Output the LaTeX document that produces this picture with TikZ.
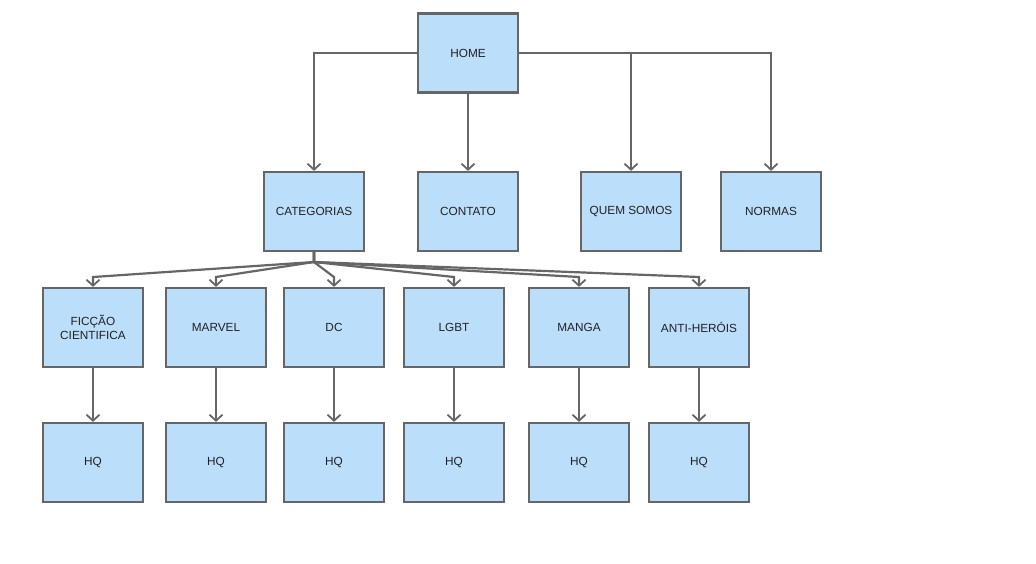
\documentclass[tikz,border=0pt]{standalone}
\usepackage{fontspec}
\setmainfont{Liberation Sans}
\usetikzlibrary{arrows.meta}
\definecolor{boxfill}{HTML}{BBDEFB}
\definecolor{edge}{HTML}{666666}
\definecolor{ink}{HTML}{222222}
\begin{document}
\begin{tikzpicture}[x=1pt,y=-1pt,
  page/.style={draw=edge, line width=2.2pt, fill=boxfill, minimum width=100pt,
    minimum height=79pt, inner sep=0pt, align=center, text=ink,
    font=\fontsize{11.8}{13.5}\selectfont},
  link/.style={draw=edge, line width=2.2pt,
    -{Straight Barb[length=6pt,width=13pt,line width=1.8pt]}}]
\useasboundingbox (0,0) rectangle (1036,563);

% top level
\node[page] (home) at (468,53) {HOME};
\node[page] (cat)  at (314,211.5) {CATEGORIAS};
\node[page] (cont) at (468,211.5) {CONTATO};
\node[page] (quem) at (631,211.5) {QUEM SOMOS};
\node[page] (norm) at (771,211.5) {NORMAS};

% categories
\node[page] (fic)  at (93,327.5)  {FICÇÃO\\CIENTIFICA};
\node[page] (marv) at (216,327.5) {MARVEL};
\node[page] (dc)   at (334,327.5) {DC};
\node[page] (lgbt) at (454,327.5) {LGBT};
\node[page] (mang) at (579,327.5) {MANGA};
\node[page] (anti) at (699,327.5) {ANTI-HERÓIS};

% comics
\node[page] (hq1) at (93,462.5)  {HQ};
\node[page] (hq2) at (216,462.5) {HQ};
\node[page] (hq3) at (334,462.5) {HQ};
\node[page] (hq4) at (454,462.5) {HQ};
\node[page] (hq5) at (579,462.5) {HQ};
\node[page] (hq6) at (699,462.5) {HQ};

% home menu
\draw[link] (home.west) -| (cat.north);
\draw[link] (home.south) -- (cont.north);
\draw[link] (home.east) -| (quem.north);
\draw[link] (home.east) -| (norm.north);

% fan out from categories
\coordinate (hub) at (314,262);
\foreach \c in {fic,marv,dc,lgbt,mang,anti}{
  \draw[link] (cat.south) -- (hub) -- (\c.north |- 0,277) -- (\c.north);
}

% category to comics
\foreach \a/\b in {fic/hq1,marv/hq2,dc/hq3,lgbt/hq4,mang/hq5,anti/hq6}{
  \draw[link] (\a.south) -- (\b.north);
}
\end{tikzpicture}
\end{document}
